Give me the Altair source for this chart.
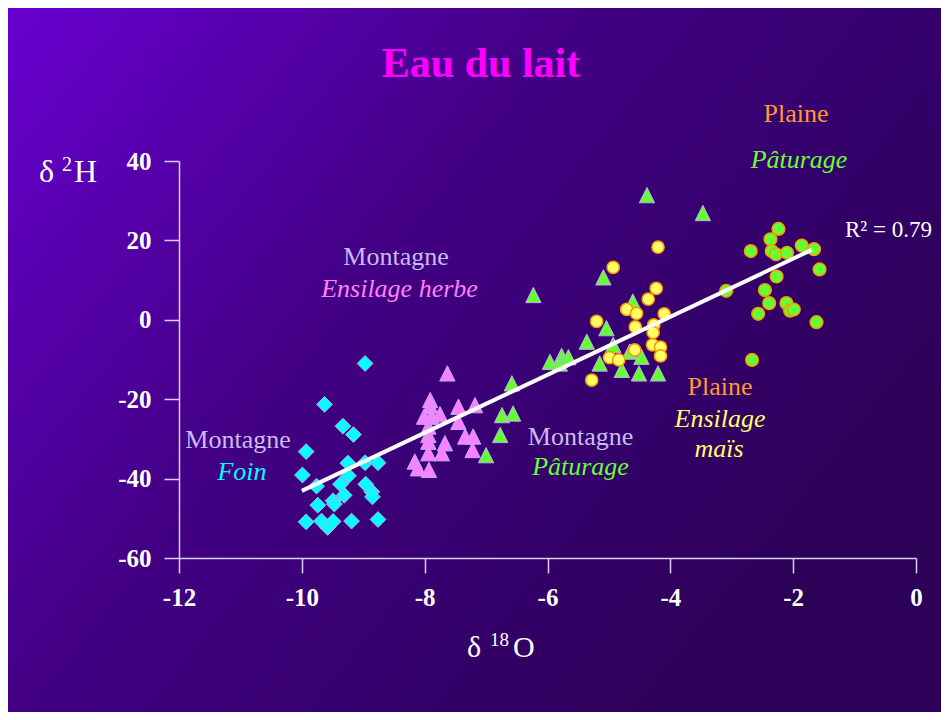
import altair as alt
import pandas as pd

# ---------------- data ----------------
foin_x = [-8.97, -9.63, -9.33, -9.16, -9.93, -9.99, -9.76, -9.25, -8.97, -8.76, -9.24, -9.37, -8.96,
          -8.86, -8.85, -9.31, -9.49, -9.47, -9.74, -9.93, -9.68, -9.58, -9.49, -9.19, -8.76]
foin_y = [-11.0, -21.3, -26.8, -28.9, -33.2, -39.1, -41.9, -36.1, -36.0, -36.0, -39.3, -41.4, -41.4,
          -43.3, -44.6, -44.2, -45.6, -46.4, -46.7, -50.9, -50.7, -52.3, -50.8, -50.7, -50.3]

herbe_x = [-7.63, -7.91, -7.91, -8.01, -7.89, -7.75, -7.45, -7.18, -7.45, -7.94, -7.94, -7.94, -7.34,
           -7.21, -7.67, -7.22, -7.94, -7.72, -8.16, -8.11, -7.93]
herbe_y = [-13.5, -20.2, -21.7, -24.4, -24.4, -23.8, -21.9, -21.5, -25.7, -26.9, -29.0, -30.7, -29.4,
           -29.4, -31.1, -32.8, -33.6, -33.6, -35.7, -37.4, -37.8]

mpat_x = [-4.38, -3.47, -5.09, -6.23, -4.61, -5.04, -5.36, -4.93, -5.96, -5.77, -5.66, -5.80, -5.15,
          -4.66, -4.47, -4.79, -4.51, -4.20, -6.58, -6.74, -6.56, -6.77, -7.00]
mpat_y = [31.4, 26.9, 10.7, 6.25, 4.6, -2.1, -5.5, -6.3, -10.6, -9.1, -9.4, -11.0, -11.0,
          -8.0, -9.3, -12.6, -13.5, -13.5, -16.0, -24.0, -23.6, -29.0, -34.1]

mais_x = [-4.20, -4.93, -4.23, -4.36, -4.71, -4.55, -4.10, -5.20, -4.57, -4.27, -4.28, -4.29, -4.16,
          -4.16, -4.58, -4.99, -4.84, -5.28]
mais_y = [18.3, 13.2, 7.9, 5.2, 2.6, 1.6, 1.5, -0.4, -1.8, -1.3, -3.2, -6.3, -6.9,
          -9.1, -7.6, -9.5, -10.1, -15.2]

ppat_x = [-2.24, -2.37, -2.69, -2.35, -2.28, -2.10, -1.86, -1.66, -1.57, -2.27, -2.46, -3.09, -2.39,
          -2.11, -2.05, -1.99, -2.57, -1.62, -2.67]
ppat_y = [22.9, 20.3, 17.3, 17.3, 16.5, 16.9, 18.7, 17.8, 12.7, 10.9, 7.5, 7.3, 4.2,
          4.2, 2.3, 2.6, 1.5, -0.6, -10.1]

reg_x = [-10.0, -1.70]
reg_y = [-43.1, 17.6]

x_ticks = [-12, -10, -8, -6, -4, -2, 0]
y_ticks = [-60, -40, -20, 0, 20, 40]

title_text = "Eau du lait"
r2_text = "R² = 0.79"

reg_labels = ["Montagne", "Montagne", "Montagne", "Plaine", "Plaine"]
ita_labels = ["Ensilage herbe", "Foin", "Pâturage", "Ensilage", "maïs", "Pâturage"]

# ---------------- layout ----------------
W, H = 737, 397
PAD_L, PAD_T = 171, 153
TOTAL_W, TOTAL_H = 933, 704
FONT = "Liberation Serif"
AX = "#d8d0f0"
X0, X1, Y0, Y1 = -12, 0, -60, 40

xs = alt.Scale(domain=[X0, X1], nice=False, zero=False)
ys = alt.Scale(domain=[Y0, Y1], nice=False, zero=False)


def dx(px):  # annotation pixel offset (from plot left) -> data x
    return [X0 + p * (X1 - X0) / W for p in px]


def dy(py):  # annotation pixel offset (from plot top) -> data y
    return [Y1 - p * (Y1 - Y0) / H for p in py]


common_axis = dict(title=None, grid=False, labelFont=FONT, labelFontWeight="bold",
                   labelFontSize=25, labelColor="white", domainColor=AX, tickColor=AX,
                   domainWidth=1.5, tickWidth=1.5, tickSize=15,
                   labelFlush=False, labelOverlap=False, labelExpr="'' + datum.value", zindex=1)
xaxis = alt.Axis(values=x_ticks, labelPadding=12, **common_axis)
yaxis = alt.Axis(values=y_ticks, labelPadding=13, **common_axis)

one = pd.DataFrame({"a": [0]})

bg = alt.Chart(one).mark_rect(
    clip=False,
    color={"gradient": "linear", "x1": 0, "y1": 0, "x2": 1, "y2": 0.6,
           "stops": [{"offset": 0, "color": "#6800d0"},
                     {"offset": 0.45, "color": "#420084"},
                     {"offset": 0.75, "color": "#34006a"},
                     {"offset": 1, "color": "#2c0056"}]},
).encode(x=alt.value(-PAD_L), x2=alt.value(TOTAL_W - PAD_L),
         y=alt.value(-PAD_T), y2=alt.value(TOTAL_H - PAD_T))


def enc(ch):
    return ch.encode(x=alt.X("x:Q", scale=xs, axis=xaxis), y=alt.Y("y:Q", scale=ys, axis=yaxis))


def pts(xv, yv, **mk):
    df = pd.DataFrame({"x": xv, "y": yv})
    return enc(alt.Chart(df).mark_point(filled=True, opacity=1, **mk))


TRI = "M0,-1L1,1L-1,1Z"
foin = pts(foin_x, foin_y, shape="diamond", size=250, color="#00ffff", stroke="#b8a8f0", strokeWidth=1)
herbe = pts(herbe_x, herbe_y, shape=TRI, size=235, color="#ff80ff", stroke="#c0a8f8", strokeWidth=1)
mpat = pts(mpat_x, mpat_y, shape=TRI, size=235, color="#66ff33", stroke="#c0a8f8", strokeWidth=1)
mais = pts(mais_x, mais_y, shape="circle", size=150, color="#ffff66", stroke="#ff9900", strokeWidth=1.5)
ppat = pts(ppat_x, ppat_y, shape="circle", size=160, color="#66ff33", stroke="#ff9900", strokeWidth=1.5)

reg = enc(alt.Chart(pd.DataFrame({"x": reg_x, "y": reg_y})).mark_line(color="white", strokeWidth=4))

# annotation text positions (pixels from the plot area's top-left corner)
reg_df = pd.DataFrame({
    "t": reg_labels,
    "x": dx([217, 59, 401.5, 541, 617]),
    "y": dy([104, 287, 284, 234, -39]),
    "c": ["#c8bcf2", "#c8bcf2", "#c8bcf2", "#ff9933", "#ff9933"],
})
ita_df = pd.DataFrame({
    "t": ita_labels,
    "x": dx([220.5, 63, 401.5, 541, 540, 620]),
    "y": dy([136, 319, 314, 266, 296, 7]),
    "c": ["#ff80ff", "#00ffff", "#66ff33", "#ffff66", "#ffff66", "#66ff33"],
})


def txt(df, **mk):
    return enc(alt.Chart(df).mark_text(font=FONT, baseline="alphabetic", clip=False, **mk)).encode(
        text="t:N", color=alt.Color("c:N", scale=None),
    )


reg_txt = txt(reg_df, fontSize=26, align="center")
ita_txt = txt(ita_df, fontSize=26, align="center", fontStyle="italic")

title = txt(pd.DataFrame({"t": [title_text], "x": dx([302]), "y": dy([-84]), "c": ["#ff00ff"]}),
            fontSize=42, fontWeight="bold", align="center")
r2 = txt(pd.DataFrame({"t": [r2_text], "x": dx([666]), "y": dy([76]), "c": ["white"]}),
         fontSize=23, align="left")

ytitle = txt(pd.DataFrame({"t": ["δ", "2", "H"], "x": dx([-140, -117, -105]), "y": dy([21, 10, 21]),
                           "c": ["white"] * 3, "s": [32, 20, 32]}), align="left").encode(
    size=alt.Size("s:Q", scale=None))
xtitle = txt(pd.DataFrame({"t": ["δ", "18", "O"], "x": dx([288, 311, 334]), "y": dy([496, 485, 496]),
                           "c": ["white"] * 3, "s": [30, 19, 30]}), align="left").encode(
    size=alt.Size("s:Q", scale=None))

chart = alt.layer(
    bg, foin, herbe, mpat, mais, ppat, reg,
    reg_txt, ita_txt, title, r2, ytitle, xtitle,
).properties(
    width=W, height=H,
    autosize=alt.AutoSizeParams(type="none"),
    padding={"left": PAD_L, "top": PAD_T, "right": TOTAL_W - PAD_L - W, "bottom": TOTAL_H - PAD_T - H},
    background="#34006a",
).configure_view(stroke=None)

chart.save("out.html", embed_options={"renderer": "svg", "actions": False})
